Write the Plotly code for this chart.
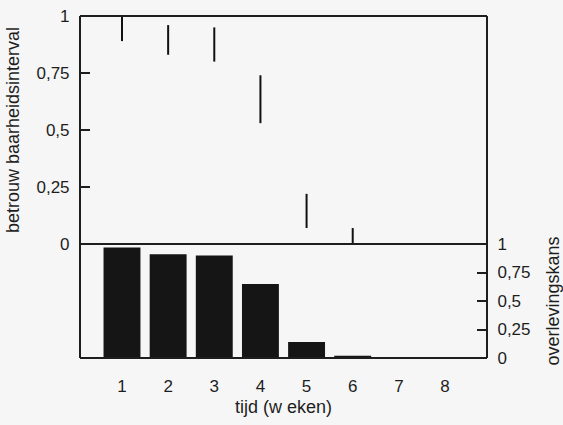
import plotly.graph_objects as go

weeks = [1, 2, 3, 4, 5, 6, 7, 8]
survival = [0.97, 0.91, 0.90, 0.65, 0.14, 0.02, 0.0, 0.0]
ci_weeks = [1, 2, 3, 4, 5, 6]
ci_lower = [0.89, 0.83, 0.80, 0.53, 0.07, 0.0]
ci_upper = [1.0, 0.96, 0.95, 0.74, 0.22, 0.07]
y_tickvals = [0, 0.25, 0.5, 0.75, 1]
y_ticktext = ["0", "0,25", "0,5", "0,75", "1"]

FONT = "Liberation Sans, Arial, sans-serif"
BG = "#f6f6f6"
INK = "#1e1e1e"

seg_x, seg_y = [], []
for w, lo, hi in zip(ci_weeks, ci_lower, ci_upper):
    seg_x += [w, w, None]
    seg_y += [lo, hi, None]

fig = go.Figure()
fig.add_trace(go.Scatter(x=seg_x, y=seg_y, mode="lines",
                         line=dict(color="#111111", width=2),
                         xaxis="x2", yaxis="y", showlegend=False))
fig.add_trace(go.Bar(x=weeks, y=survival, width=0.8,
                     marker=dict(color="#151515", line=dict(width=0)),
                     xaxis="x", yaxis="y2", showlegend=False))

base = dict(showgrid=False, zeroline=False, automargin=False, showline=False)

fig.update_layout(
    width=563, height=425,
    margin=dict(l=80, r=76, t=16, b=67),
    paper_bgcolor=BG, plot_bgcolor=BG,
    font=dict(family=FONT, size=17, color=INK),
    xaxis=dict(domain=[0, 1], anchor="y2", range=[0.09, 8.91],
               tickvals=weeks, ticktext=[str(w) for w in weeks],
               ticks="outside", ticklen=13, tickcolor="rgba(0,0,0,0)",
               title=dict(text="tijd (w eken)", font=dict(size=18), standoff=4),
               **base),
    xaxis2=dict(domain=[0, 1], anchor="y", matches="x",
                showticklabels=False, ticks="", **base),
    yaxis=dict(domain=[1/3, 1], anchor="x2", range=[0, 1],
               tickvals=y_tickvals, ticktext=[t + "\u00a0\u00a0" for t in y_ticktext],
               ticks="inside", ticklen=10, tickwidth=2, tickcolor=INK,
               title=dict(text="betrouw baarheidsinterval", font=dict(size=18), standoff=12),
               **base),
    yaxis2=dict(domain=[0, 1/3], anchor="x", side="right", range=[0, 1],
                tickvals=y_tickvals, ticktext=["\u00a0\u00a0" + t for t in y_ticktext],
                ticks="inside", ticklen=10, tickwidth=2, tickcolor=INK,
                title=dict(text="overlevingskans", font=dict(size=18), standoff=18),
                **base),
)

# panel frames in paper coordinates (not clipped)
for y0, y1 in ((1/3, 1), (0, 1/3)):
    for x0, x1, ya, yb in ((0, 0, y0, y1), (1, 1, y0, y1), (0, 1, y0, y0), (0, 1, y1, y1)):
        fig.add_shape(type="line", xref="paper", yref="paper",
                      x0=x0, x1=x1, y0=ya, y1=yb,
                      line=dict(color=INK, width=2), layer="above")

fig.write_html("out.html")
